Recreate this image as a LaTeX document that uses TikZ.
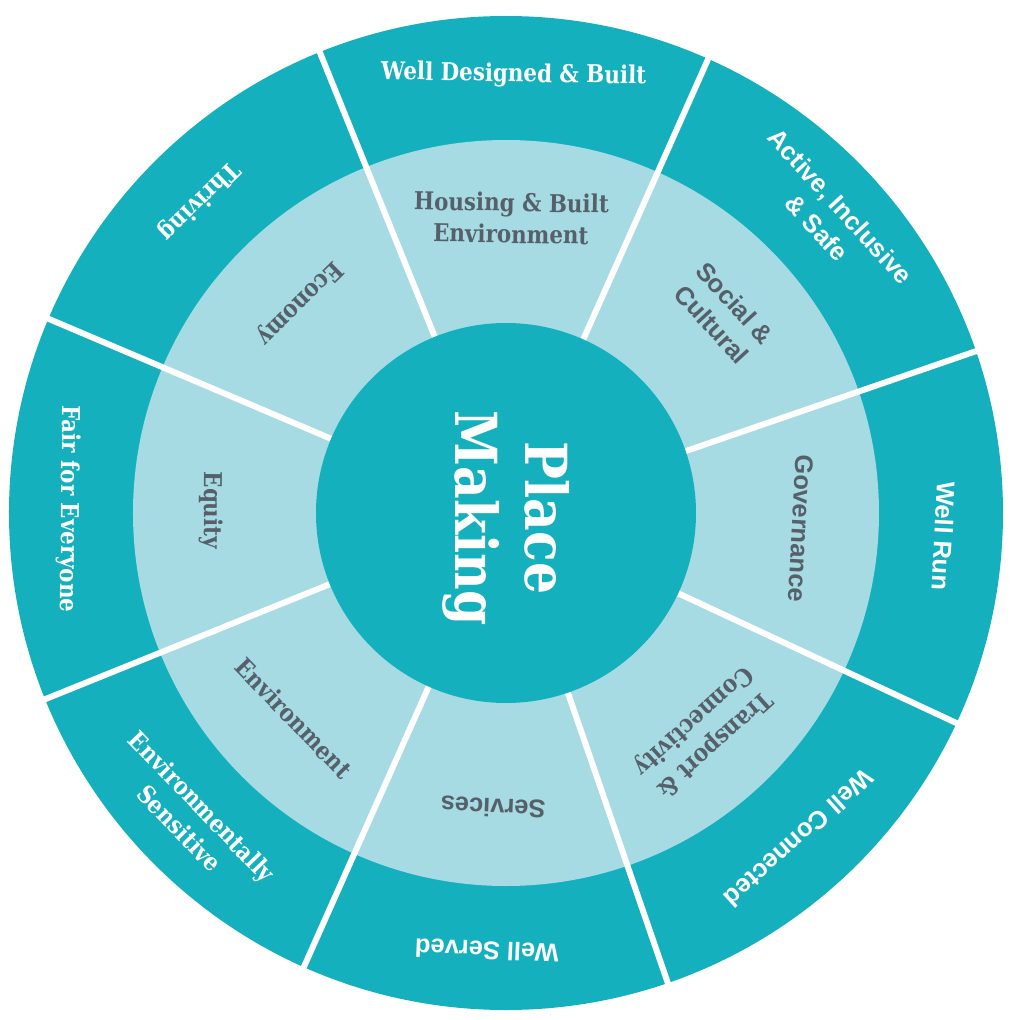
\documentclass[tikz,border=0pt]{standalone}
\usepackage{fontspec}
\newfontfamily\slabfont{DejaVu Serif}[FakeStretch=0.87]
\newfontfamily\grotfont{Liberation Sans}

\definecolor{wheelteal}{HTML}{14B0BE}
\definecolor{wheellight}{HTML}{A6DBE3}
\definecolor{labelgrey}{HTML}{56606A}

\tikzset{
  ring/.style={draw=none},
  spoke/.style={white, line width=0.12cm},
  slabout/.style={text=white, align=center, inner sep=0pt, font=\slabfont\bfseries\fontsize{14}{18}\selectfont},
  grotout/.style={text=white, align=center, inner sep=0pt, font=\grotfont\bfseries\fontsize{14.5}{18}\selectfont},
  slabin/.style={text=labelgrey, align=center, inner sep=0pt, font=\slabfont\bfseries\fontsize{14}{18}\selectfont},
  grotin/.style={text=labelgrey, align=center, inner sep=0pt, font=\grotfont\bfseries\fontsize{14.5}{18}\selectfont},
}

\begin{document}
\begin{tikzpicture}
        \useasboundingbox (-10.12,-10.14) rectangle (10.16,10.26);
        \fill [wheelteal] (0,0) circle (9.94);
        \fill [wheellight] (0,0) circle (7.46);
        \node [circle, fill=wheelteal, minimum size=7.6cm, inner sep=0pt] (hub) at (0,0) {};
        \node [text=white, align=center, inner sep=0pt, rotate=-90,
               font=\slabfont\bfseries\fontsize{33}{40}\selectfont] (hubtext) at (0,-0.1) {Place\\Making};

        \coordinate (rimA) at (19:10.2);
        \coordinate (rimB) at (66:10.2);
        \coordinate (rimC) at (112:10.2);
        \coordinate (rimD) at (157:10.2);
        \coordinate (rimE) at (202:10.2);
        \coordinate (rimF) at (246:10.2);
        \coordinate (rimG) at (289:10.2);
        \coordinate (rimH) at (335:10.2);
        \draw [spoke] (hub.19) -- (rimA);
        \draw [spoke] (hub.66) -- (rimB);
        \draw [spoke] (hub.112) -- (rimC);
        \draw [spoke] (hub.157) -- (rimD);
        \draw [spoke] (hub.202) -- (rimE);
        \draw [spoke] (hub.246) -- (rimF);
        \draw [spoke] (hub.289) -- (rimG);
        \draw [spoke] (hub.335) -- (rimH);

        \node [slabout, rotate=-1] (designed) at (89:8.76) {Well Designed \& Built};
        \node [grotout, rotate=-47.5] (active) at (42.5:8.76) {Active, Inclusive\\\& Safe};
        \node [grotout, rotate=-93] (run) at (-3:8.76) {Well Run};
        \node [grotout, rotate=-138] (connected) at (-48:8.76) {Well Connected};
        \node [grotout, rotate=177.5] (served) at (-92.5:8.76) {Well Served};
        \node [slabout, rotate=-46] (sensitive) at (224:8.76) {Environmentally\\Sensitive};
        \node [slabout, rotate=-90.5] (fair) at (179.5:8.76) {Fair for Everyone};
        \node [slabout, rotate=-135.5] (thriving) at (134.5:8.76) {Thriving};

        \node [slabin, rotate=-1] (housing) at (89:5.9) {Housing \& Built\\Environment};
        \node [grotin, rotate=-47.5] (social) at (42.5:5.9) {Social \&\\Cultural};
        \node [grotin, rotate=-93] (governance) at (-3:5.9) {Governance};
        \node [slabin, rotate=-138] (transport) at (-48:5.9) {Transport \&\\Connectivity};
        \node [grotin, rotate=177.5] (services) at (-92.5:5.9) {Services};
        \node [slabin, rotate=-46] (environment) at (224:5.9) {Environment};
        \node [slabin, rotate=-90.5] (equity) at (179.5:5.9) {Equity};
        \node [slabin, rotate=-135.5] (economy) at (134.5:5.9) {Economy};
\end{tikzpicture}
\end{document}
